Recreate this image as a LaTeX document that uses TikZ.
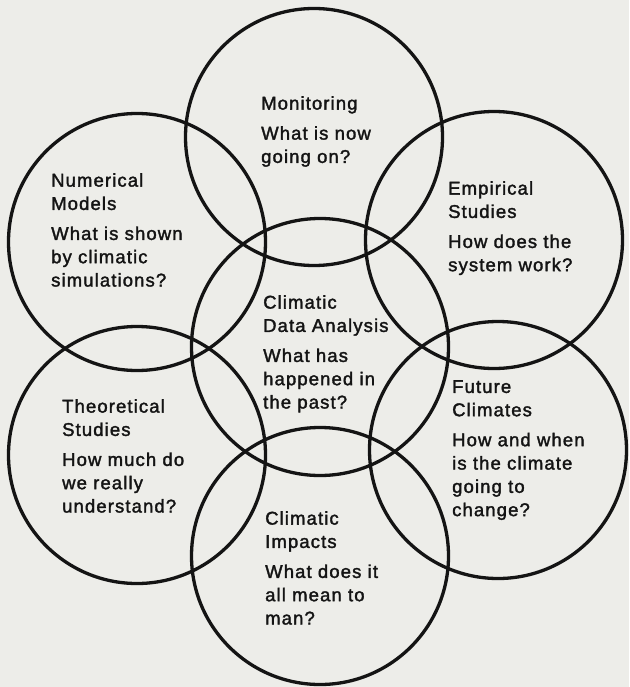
\documentclass[tikz,border=0pt]{standalone}
\usepackage{fontspec}
\setmainfont{Liberation Sans}[LetterSpace=6, FakeBold=1.8]
\definecolor{paper}{RGB}{237,237,233}
\definecolor{ink}{RGB}{20,20,20}
\begin{document}
\begin{tikzpicture}[x=1pt,y=-1pt,
    ring/.style={draw=ink, line width=3.3pt, circle, minimum size=257pt, inner sep=0pt},
    topic/.style={anchor=north west, align=left, inner sep=0pt, text=ink,
        font=\fontsize{18.5}{23.3}\selectfont}]

    % Paper
    \fill[paper] (0,0) rectangle (629,687);
    \useasboundingbox (0,0) rectangle (629,687);

    % The seven rings
    \node[ring] (mon)  at (314,137) {};
    \node[ring] (num)  at (137,242) {};
    \node[ring] (emp)  at (494,240) {};
    \node[ring] (data) at (320,347) {};
    \node[ring] (theo) at (137,455) {};
    \node[ring] (fut)  at (498,450) {};
    \node[ring] (imp)  at (320,556) {};

    % Topics and questions (top of first line ~13pt over its baseline)
    \node[topic] (mon-txt)  at (261,96)  {Monitoring\\[6.7pt]What is now\\going on?};
    \node[topic] (num-txt)  at (51,173)  {Numerical\\Models\\[6.7pt]What is shown\\by climatic\\simulations?};
    \node[topic] (emp-txt)  at (448,181) {Empirical\\Studies\\[6.7pt]How does the\\system work?};
    \node[topic] (data-txt) at (263,295) {Climatic\\Data Analysis\\[6.7pt]What has\\happened in\\the past?};
    \node[topic] (theo-txt) at (62,399)  {Theoretical\\Studies\\[6.7pt]How much do\\we really\\understand?};
    \node[topic] (fut-txt)  at (452,380) {Future\\Climates\\[6.7pt]How and when\\is the climate\\going to\\change?};
    \node[topic] (imp-txt)  at (265,511) {Climatic\\Impacts\\[6.7pt]What does it\\all mean to\\man?};

\end{tikzpicture}
\end{document}
